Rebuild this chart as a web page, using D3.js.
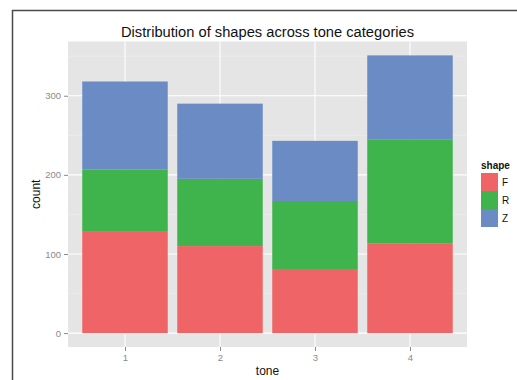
<!DOCTYPE html>
<html>
<head>
<meta charset="utf-8">
<script src="https://cdn.jsdelivr.net/npm/d3@7"></script>
<style>
  html, body { margin: 0; padding: 0; background: #fff; }
  svg { display: block; font-family: "Liberation Sans", Arial, sans-serif; }
</style>
</head>
<body>
<svg id="chart" width="517" height="380"></svg>
<script>
// Counts per tone category, split by shape
const tones = ["1", "2", "3", "4"];
const shapes = ["F", "R", "Z"];
const countF = [128, 110, 81, 113];
const countR = [79, 85, 86, 132];
const countZ = [111, 95, 76, 106];
const yTicks = [0, 100, 200, 300];
const shapeColors = ["#ef6467", "#3fb34c", "#6b8bc5"];

const svg = d3.select("#chart");

// outer frame (top and left edges)
svg.append("path")
  .attr("d", "M517,10.5H12.5V380")
  .attr("fill", "none")
  .attr("stroke", "#4a4a4a")
  .attr("stroke-width", 1.5);

const panel = { left: 68, right: 467, top: 41.5, bottom: 347 };

const x = d3.scalePoint().domain(tones).range([panel.left, panel.right]).padding(0.6);
const barW = x.step() * 0.9;

const rows = tones.map((t, i) => ({ tone: t, F: countF[i], R: countR[i], Z: countZ[i] }));
const maxTotal = d3.max(rows, d => d.F + d.R + d.Z);
const pad = maxTotal * 0.05;
const y = d3.scaleLinear().domain([-pad, maxTotal + pad]).range([panel.bottom, panel.top]);

// panel background
svg.append("rect")
  .attr("x", panel.left).attr("y", panel.top)
  .attr("width", panel.right - panel.left).attr("height", panel.bottom - panel.top)
  .attr("fill", "#e5e5e5");

// minor grid
const minor = yTicks.map(v => v + 50).filter(v => v < maxTotal + pad);
svg.append("g").selectAll("line").data(minor).join("line")
  .attr("x1", panel.left).attr("x2", panel.right)
  .attr("y1", d => y(d)).attr("y2", d => y(d))
  .attr("stroke", "#f0f0f0").attr("stroke-width", 0.5);

// major grid
svg.append("g").selectAll("line").data(yTicks).join("line")
  .attr("x1", panel.left).attr("x2", panel.right)
  .attr("y1", d => y(d)).attr("y2", d => y(d))
  .attr("stroke", "#ffffff").attr("stroke-width", 1.1);
svg.append("g").selectAll("line").data(tones).join("line")
  .attr("x1", d => x(d)).attr("x2", d => x(d))
  .attr("y1", panel.top).attr("y2", panel.bottom)
  .attr("stroke", "#ffffff").attr("stroke-width", 1.1);

// stacked bars
const stack = d3.stack().keys(shapes)(rows);
const color = d3.scaleOrdinal().domain(shapes).range(shapeColors);
svg.append("g").selectAll("g").data(stack).join("g")
  .attr("fill", d => color(d.key))
  .selectAll("rect").data(d => d).join("rect")
  .attr("x", d => x(d.data.tone) - barW / 2)
  .attr("width", barW)
  .attr("y", d => y(d[1]))
  .attr("height", d => y(d[0]) - y(d[1]));

// y axis
const yAxis = svg.append("g")
  .attr("transform", `translate(${panel.left},0)`)
  .call(d3.axisLeft(y).tickValues(yTicks).tickSize(4).tickPadding(3));
yAxis.select(".domain").remove();
yAxis.selectAll("line").attr("stroke", "#8a8a8a");
yAxis.selectAll("text").attr("fill", "#8a8a8a").attr("font-size", "9.5px")
  .attr("font-family", "Liberation Sans, Arial, sans-serif");

// x axis
const xAxis = svg.append("g")
  .attr("transform", `translate(0,${panel.bottom})`)
  .call(d3.axisBottom(x).tickSize(4).tickPadding(3));
xAxis.select(".domain").remove();
xAxis.selectAll("line").attr("stroke", "#8a8a8a");
xAxis.selectAll("text").attr("fill", "#8a8a8a").attr("font-size", "9.5px")
  .attr("font-family", "Liberation Sans, Arial, sans-serif");

// axis titles
svg.append("text")
  .attr("x", (panel.left + panel.right) / 2).attr("y", 375)
  .attr("text-anchor", "middle").attr("font-size", "12px").attr("fill", "#111")
  .text("tone");
svg.append("text")
  .attr("transform", `translate(40,${(panel.top + panel.bottom) / 2}) rotate(-90)`)
  .attr("text-anchor", "middle").attr("font-size", "12px").attr("fill", "#111")
  .text("count");

// title
svg.append("text")
  .attr("x", (panel.left + panel.right) / 2).attr("y", 37)
  .attr("text-anchor", "middle").attr("font-size", "14.7px").attr("fill", "#111")
  .text("Distribution of shapes across tone categories");

// legend
const legend = svg.append("g").attr("transform", "translate(481,173)");
legend.append("text")
  .attr("x", 0).attr("y", -4)
  .attr("font-size", "10px").attr("font-weight", "bold").attr("fill", "#111")
  .text("shape");
const keySize = 18;
const item = legend.selectAll("g.item").data(shapes).join("g")
  .attr("class", "item")
  .attr("transform", (d, i) => `translate(0,${i * keySize})`);
item.append("rect")
  .attr("width", 17).attr("height", keySize)
  .attr("fill", d => color(d));
item.append("text")
  .attr("x", 21).attr("y", keySize / 2 + 3.5)
  .attr("font-size", "10px").attr("fill", "#111")
  .text(d => d);
</script>
</body>
</html>
